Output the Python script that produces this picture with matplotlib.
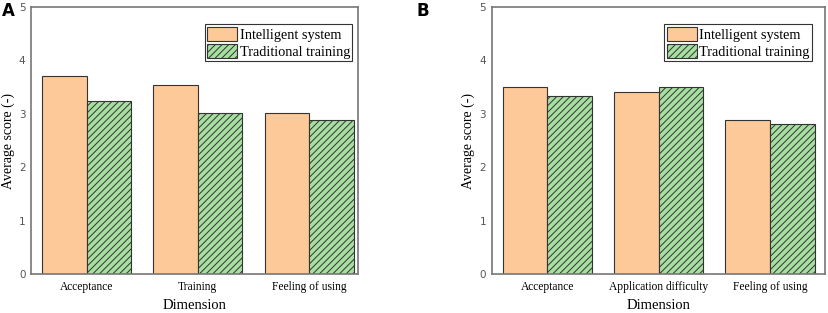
import numpy as np
import matplotlib.pyplot as plt

plt.rcParams['font.family'] = ['Liberation Serif', 'DejaVu Serif']
plt.rcParams['hatch.linewidth'] = 0.7

# ===================== 数据 =====================
series = ["Intelligent system", "Traditional training"]
cats_a = ["Acceptance", "Training", "Feeling of using"]
intel_a = [3.71, 3.54, 3.01]
trad_a = [3.24, 3.01, 2.89]

cats_b = ["Acceptance", "Application difficulty", "Feeling of using"]
intel_b = [3.50, 3.41, 2.89]
trad_b = [3.33, 3.50, 2.80]

C_ORANGE = '#fdc999'
C_GREEN = '#a6dfa0'
W = 0.4

fig = plt.figure(figsize=(8.29, 3.13), dpi=100)
ax_a = fig.add_axes([0.0374, 0.1246, 0.3944, 0.853])
ax_b = fig.add_axes([0.593, 0.1246, 0.4017, 0.853])


def draw(ax, cats, v1, v2, xmax, leg_x):
    x = np.arange(len(cats))
    ax.bar(x - W / 2, v1, W, color=C_ORANGE, edgecolor='#333333', linewidth=0.8,
           label=series[0])
    ax.bar(x + W / 2, v2, W, color=C_GREEN, edgecolor='#333333', linewidth=0.8,
           hatch='/////', label=series[1])
    ax.set_xlim(-0.5, xmax)
    ax.set_ylim(0, 5)
    ax.set_xticks(x)
    ax.set_xticklabels(cats, fontsize=8.3)
    ax.set_yticks(range(6))
    ax.set_yticklabels([str(i) for i in range(6)], fontsize=7.5,
                       family='DejaVu Sans', color='#555555')
    ax.tick_params(axis='x', length=0, pad=5)
    ax.tick_params(axis='y', length=0, pad=4)
    for s in ax.spines.values():
        s.set_color('#777777')
        s.set_linewidth(1.2)
    ax.set_xlabel("Dimension", fontsize=10.5, labelpad=4)
    ax.set_ylabel("Average score (-)", fontsize=10, labelpad=3)
    leg = ax.legend(loc='upper right', bbox_to_anchor=(leg_x, 0.935), fontsize=10.3,
                    fancybox=False, edgecolor='#333333', framealpha=1,
                    handlelength=2.1, handleheight=1.2, labelspacing=0.15,
                    handletextpad=0.2, borderpad=0.15, borderaxespad=0)
    leg.get_frame().set_linewidth(0.8)


draw(ax_a, cats_a, intel_a, trad_a, 2.44, 0.982)
draw(ax_b, cats_b, intel_b, trad_b, 2.49, 0.962)

fig.text(2 / 829, 1 - 2 / 313, "A", fontsize=12, fontweight='bold',
         family='DejaVu Sans', va='top', ha='left')
fig.text(417 / 829, 1 - 2 / 313, "B", fontsize=12, fontweight='bold',
         family='DejaVu Sans', va='top', ha='left')

fig.savefig("out.png", dpi=100)
